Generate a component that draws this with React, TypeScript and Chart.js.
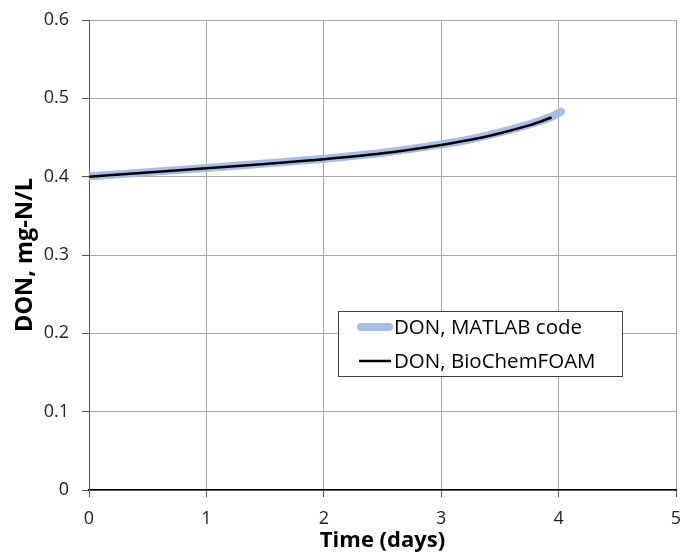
import React, { useEffect, useRef } from "react";
import { Chart, registerables } from "chart.js";

Chart.register(...registerables);

const timeMatlab = [0, 0.5, 1, 1.5, 2, 2.5, 3, 3.25, 3.5, 3.75, 3.94, 4.02];
const donMatlab = [0.4005, 0.4058, 0.4112, 0.4168, 0.4228, 0.4305, 0.4412, 0.4478, 0.4565, 0.4668, 0.4765, 0.4830];
const timeFoam = [0, 0.5, 1, 1.5, 2, 2.5, 3, 3.25, 3.5, 3.75, 3.94];
const donFoam = [0.4, 0.4052, 0.4106, 0.4162, 0.4222, 0.4298, 0.4405, 0.4470, 0.4555, 0.4655, 0.4755];
const xTicks = [0, 1, 2, 3, 4, 5];
const yTicks = [0, 0.1, 0.2, 0.3, 0.4, 0.5, 0.6];
const seriesLabels = ["DON, MATLAB code", "DON, BioChemFOAM"];

const FONT = "'Open Sans', 'Liberation Sans', sans-serif";

const legendPlugin = {
  id: "insideLegend",
  afterDraw(chart: any) {
    const ctx = chart.ctx;
    const x = 338.5, y = 311.5, w = 284, h = 65;
    ctx.save();
    ctx.fillStyle = "#ffffff";
    ctx.fillRect(x, y, w, h);
    ctx.strokeStyle = "#404040";
    ctx.lineWidth = 1;
    ctx.strokeRect(x, y, w, h);
    const items = seriesLabels.map((lbl) => chart.data.datasets.find((d: any) => d.label === lbl));
    const rows = [327, 361];
    items.forEach((d: any, i: number) => {
      const yy = rows[i];
      ctx.beginPath();
      ctx.lineCap = i === 0 ? "round" : "butt";
      ctx.strokeStyle = d.borderColor;
      ctx.lineWidth = d.borderWidth;
      ctx.moveTo(i === 0 ? 361 : 359, yy);
      ctx.lineTo(i === 0 ? 389 : 391, yy);
      ctx.stroke();
      ctx.fillStyle = "#000000";
      ctx.font = `20.5px ${FONT}`;
      ctx.textBaseline = "middle";
      ctx.textAlign = "left";
      ctx.fillText(d.label, 394, yy + 1);
    });
    ctx.restore();
  },
};

export default function App() {
  const ref = useRef<HTMLCanvasElement | null>(null);
  useEffect(() => {
    if (!ref.current) return;
    const chart = new Chart(ref.current, {
      type: "scatter",
      data: {
        datasets: [
          {
            label: seriesLabels[1],
            data: timeFoam.map((t, i) => ({ x: t, y: donFoam[i] })),
            showLine: true,
            borderColor: "#000000",
            backgroundColor: "#000000",
            borderWidth: 2.5,
            pointRadius: 0,
            cubicInterpolationMode: "monotone",
          },
          {
            label: seriesLabels[0],
            data: timeMatlab.map((t, i) => ({ x: t, y: donMatlab[i] })),
            showLine: true,
            borderColor: "rgba(160,185,230,0.95)",
            backgroundColor: "rgba(160,185,230,0.95)",
            borderWidth: 8,
            borderCapStyle: "round",
            pointRadius: 0,
            cubicInterpolationMode: "monotone",
          },
        ],
      },
      options: {
        responsive: false,
        animation: false,
        layout: { padding: { left: 0, top: 20, right: 7, bottom: 0 } },
        plugins: {
          legend: { display: false },
          tooltip: { enabled: false },
        },
        scales: {
          x: {
            type: "linear",
            min: 0,
            max: 5,
            afterBuildTicks: (s: any) => {
              s.ticks = xTicks.map((v) => ({ value: v }));
            },
            afterFit: (s: any) => {
              s.height = 66;
              s.paddingLeft = 0;
              s.paddingRight = 0;
            },
            grid: {
              color: "#a6a6a6",
              lineWidth: 1,
              tickLength: 7,
              tickColor: "#555555",
            },
            border: { color: "#000000", width: 1.5 },
            ticks: {
              color: "#222222",
              font: { family: FONT, size: 18 },
              padding: 11,
            },
            title: {
              display: true,
              text: "Time (days)",
              color: "#000000",
              font: { family: FONT, size: 22, weight: "bold" },
              padding: { top: 0, bottom: 2 },
            },
          },
          y: {
            type: "linear",
            min: 0,
            max: 0.6,
            afterBuildTicks: (s: any) => {
              s.ticks = yTicks.map((v) => ({ value: v }));
            },
            afterFit: (s: any) => {
              s.width = 89;
              s.paddingTop = 0;
              s.paddingBottom = 0;
            },
            grid: {
              color: "#a6a6a6",
              lineWidth: 1,
              tickLength: 7,
              tickColor: "#555555",
            },
            border: { color: "#555555", width: 1 },
            ticks: {
              color: "#222222",
              font: { family: FONT, size: 18 },
              padding: 13,
              callback: (v: any) => String(Math.round(Number(v) * 10) / 10),
            },
            title: {
              display: true,
              text: "DON, mg-N/L",
              color: "#000000",
              font: { family: FONT, size: 23.5, weight: "bold" },
              padding: { top: 11, bottom: 0 },
            },
          },
        },
      },
      plugins: [legendPlugin],
    } as any);
    return () => chart.destroy();
  }, []);
  return (
    <div style={{ position: "absolute", left: 0, top: 0, width: 683, height: 556, background: "#fff" }}>
      <canvas ref={ref} width={683} height={556} style={{ width: 683, height: 556 }} />
    </div>
  );
}
